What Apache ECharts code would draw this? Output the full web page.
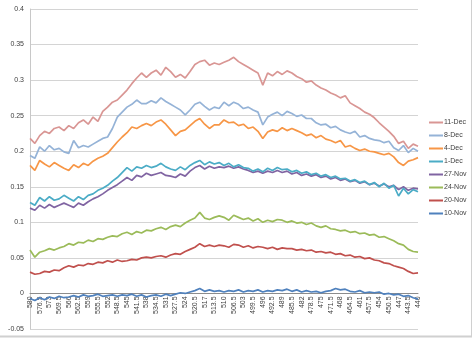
<!DOCTYPE html>
<html>
<head>
<meta charset="utf-8">
<script src="https://cdn.jsdelivr.net/npm/echarts@6/dist/echarts.min.js"></script>
<style>
  html, body { margin: 0; padding: 0; background: #fff; }
  #chart { width: 474px; height: 338px; }
</style>
</head>
<body>
<div id="chart"></div>
<script>
// Wavelength categories (nm), descending
const wavelengths = [580, 578.25, 576.5, 574.75, 573, 571.25, 569.5, 567.75, 566, 564.25, 562.5, 560.75, 559, 557.25, 555.5, 553.75, 552, 550.25, 548.5, 546.75, 545, 543.25, 541.5, 539.75, 538, 536.25, 534.5, 532.75, 531, 529.25, 527.5, 525.75, 524, 522.25, 520.5, 518.75, 517, 515.25, 513.5, 511.75, 510, 508.25, 506.5, 504.75, 503, 501.25, 499.5, 497.75, 496, 494.25, 492.5, 490.75, 489, 487.25, 485.5, 483.75, 482, 480.25, 478.5, 476.75, 475, 473.25, 471.5, 469.75, 468, 466.25, 464.5, 462.75, 461, 459.25, 457.5, 455.75, 454, 452.25, 450.5, 448.75, 447, 445.25, 443.5, 441.75, 440];

const nov10 = [-0.007, -0.01, -0.006, -0.009, -0.005, -0.007, -0.004, -0.006, -0.005, -0.003, -0.005, -0.002, -0.004, -0.003, -0.001, -0.004, -0.003, -0.002, -0.004, -0.002, -0.003, -0.001, -0.004, -0.002, -0.005, -0.003, -0.002, -0.004, -0.001, -0.003, -0.001, 0.001, 0, 0.002, 0.004, 0.007, 0.003, 0.005, 0.003, 0.004, 0.002, 0.004, 0.003, 0.005, 0.002, 0.004, 0.003, 0.005, 0.002, 0.004, 0.003, 0.005, 0.004, 0.006, 0.003, 0.005, 0.002, 0.004, 0.002, 0.003, 0.001, 0.003, 0.004, 0.007, 0.005, 0.006, 0.003, 0.002, 0.004, 0.001, 0.002, 0.001, 0.002, -0.001, 0, -0.002, -0.001, -0.004, -0.003, -0.006, -0.008];

const nov20 = [0.03, 0.027, 0.028, 0.031, 0.03, 0.033, 0.032, 0.036, 0.039, 0.037, 0.04, 0.039, 0.042, 0.041, 0.044, 0.043, 0.046, 0.044, 0.047, 0.045, 0.046, 0.048, 0.047, 0.05, 0.051, 0.05, 0.052, 0.053, 0.051, 0.054, 0.056, 0.055, 0.059, 0.062, 0.065, 0.07, 0.066, 0.068, 0.066, 0.068, 0.067, 0.065, 0.069, 0.068, 0.065, 0.067, 0.064, 0.066, 0.065, 0.063, 0.065, 0.062, 0.064, 0.063, 0.063, 0.061, 0.062, 0.06, 0.061, 0.058, 0.059, 0.057, 0.058, 0.055, 0.056, 0.053, 0.054, 0.051, 0.052, 0.049, 0.05, 0.047, 0.046, 0.043, 0.042, 0.039, 0.037, 0.035, 0.031, 0.028, 0.029];

const nov24 = [0.061, 0.051, 0.058, 0.06, 0.063, 0.061, 0.064, 0.066, 0.07, 0.068, 0.072, 0.071, 0.075, 0.073, 0.077, 0.076, 0.079, 0.081, 0.08, 0.084, 0.086, 0.083, 0.087, 0.085, 0.089, 0.088, 0.091, 0.093, 0.09, 0.094, 0.096, 0.094, 0.099, 0.103, 0.106, 0.114, 0.106, 0.104, 0.107, 0.109, 0.107, 0.103, 0.11, 0.107, 0.104, 0.106, 0.102, 0.105, 0.1, 0.103, 0.101, 0.104, 0.103, 0.1, 0.102, 0.099, 0.1, 0.097, 0.099, 0.095, 0.093, 0.095, 0.091, 0.09, 0.088, 0.089, 0.086, 0.087, 0.084, 0.085, 0.082, 0.083, 0.079, 0.08, 0.077, 0.074, 0.07, 0.068, 0.062, 0.059, 0.058];

const nov27 = [0.12, 0.117, 0.124, 0.12, 0.125, 0.121, 0.124, 0.127, 0.124, 0.121, 0.127, 0.124, 0.129, 0.133, 0.136, 0.14, 0.145, 0.149, 0.153, 0.158, 0.163, 0.159, 0.166, 0.164, 0.169, 0.166, 0.168, 0.17, 0.166, 0.165, 0.163, 0.168, 0.165, 0.172, 0.177, 0.18, 0.175, 0.179, 0.176, 0.178, 0.177, 0.179, 0.176, 0.178, 0.175, 0.173, 0.17, 0.172, 0.169, 0.172, 0.17, 0.173, 0.17, 0.172, 0.168, 0.17, 0.166, 0.168, 0.165, 0.167, 0.163, 0.165, 0.161, 0.163, 0.159, 0.161, 0.157, 0.159, 0.155, 0.157, 0.153, 0.155, 0.151, 0.154, 0.15, 0.152, 0.146, 0.15, 0.145, 0.148, 0.147];

const dec1 = [0.128, 0.124, 0.135, 0.13, 0.136, 0.131, 0.133, 0.138, 0.134, 0.13, 0.136, 0.132, 0.138, 0.14, 0.145, 0.148, 0.152, 0.158, 0.163, 0.17, 0.177, 0.172, 0.178, 0.176, 0.18, 0.177, 0.179, 0.183, 0.178, 0.175, 0.173, 0.178, 0.174, 0.18, 0.184, 0.187, 0.181, 0.185, 0.182, 0.184, 0.18, 0.183, 0.178, 0.181, 0.177, 0.176, 0.172, 0.175, 0.171, 0.176, 0.173, 0.177, 0.174, 0.175, 0.171, 0.173, 0.169, 0.171, 0.167, 0.169, 0.165, 0.167, 0.163, 0.165, 0.161, 0.162, 0.158, 0.16, 0.156, 0.158, 0.153, 0.156, 0.15, 0.155, 0.148, 0.152, 0.137, 0.148, 0.14, 0.146, 0.143];

const dec4 = [0.18, 0.173, 0.187, 0.182, 0.178, 0.184, 0.18, 0.176, 0.173, 0.181, 0.177, 0.183, 0.18, 0.186, 0.19, 0.193, 0.197, 0.205, 0.213, 0.22, 0.226, 0.234, 0.232, 0.236, 0.239, 0.236, 0.241, 0.244, 0.238, 0.23, 0.222, 0.228, 0.23, 0.236, 0.242, 0.246, 0.238, 0.232, 0.237, 0.237, 0.244, 0.24, 0.241, 0.236, 0.238, 0.232, 0.234, 0.228, 0.218, 0.227, 0.23, 0.228, 0.233, 0.229, 0.232, 0.229, 0.226, 0.222, 0.224, 0.219, 0.222, 0.217, 0.215, 0.212, 0.215, 0.206, 0.208, 0.204, 0.201, 0.203, 0.2, 0.199, 0.197, 0.195, 0.197, 0.192, 0.184, 0.18, 0.186, 0.188, 0.191];

const dec8 = [0.194, 0.19, 0.206, 0.2, 0.208, 0.202, 0.204, 0.199, 0.197, 0.215, 0.205, 0.208, 0.206, 0.21, 0.214, 0.218, 0.22, 0.232, 0.248, 0.255, 0.262, 0.266, 0.272, 0.267, 0.267, 0.271, 0.268, 0.275, 0.27, 0.266, 0.262, 0.258, 0.251, 0.258, 0.266, 0.269, 0.263, 0.258, 0.262, 0.26, 0.269, 0.264, 0.269, 0.266, 0.26, 0.262, 0.258, 0.255, 0.237, 0.248, 0.252, 0.255, 0.25, 0.256, 0.253, 0.249, 0.251, 0.246, 0.246, 0.24, 0.237, 0.238, 0.233, 0.235, 0.23, 0.227, 0.225, 0.228, 0.22, 0.222, 0.218, 0.216, 0.215, 0.212, 0.214, 0.205, 0.201, 0.208, 0.198, 0.204, 0.2];

const dec11 = [0.218, 0.211, 0.222, 0.228, 0.225, 0.232, 0.234, 0.229, 0.236, 0.232, 0.24, 0.244, 0.238, 0.248, 0.242, 0.256, 0.262, 0.269, 0.272, 0.279, 0.286, 0.295, 0.303, 0.31, 0.304, 0.31, 0.314, 0.307, 0.318, 0.312, 0.304, 0.308, 0.303, 0.312, 0.322, 0.326, 0.328, 0.321, 0.324, 0.322, 0.325, 0.328, 0.332, 0.326, 0.322, 0.318, 0.314, 0.31, 0.293, 0.31, 0.306, 0.312, 0.308, 0.313, 0.31, 0.305, 0.302, 0.297, 0.299, 0.293, 0.289, 0.286, 0.282, 0.279, 0.275, 0.278, 0.268, 0.264, 0.26, 0.255, 0.252, 0.247, 0.24, 0.234, 0.228, 0.221, 0.211, 0.214, 0.204, 0.21, 0.207];

const seriesNames = ['10-Nov', '20-Nov', '24-Nov', '27-Nov', '1-Dec', '4-Dec', '8-Dec', '11-Dec'];
const seriesData = [nov10, nov20, nov24, nov27, dec1, dec4, dec8, dec11];
const seriesColors = ['#4F81BD', '#C0504D', '#9BBB59', '#8064A2', '#4BACC6', '#F79646', '#95B3D7', '#D99694'];
const legendOrder = ['11-Dec', '8-Dec', '4-Dec', '1-Dec', '27-Nov', '24-Nov', '20-Nov', '10-Nov'];

const yMin = -0.05, yMax = 0.4, yStep = 0.05;

// Plot box, px
const gridTop = 9, gridBottom = 9, chartH = 338;
const plotH = chartH - gridTop - gridBottom;
// Horizontal axis sits on the zero line: shift it up from the bottom edge
const zeroOffset = -plotH * (0 - yMin) / (yMax - yMin);

const chart = echarts.init(document.getElementById('chart'), null, { renderer: 'canvas' });
const font = 'Liberation Sans, Arial, sans-serif';

chart.setOption({
  animation: false,
  backgroundColor: '#ffffff',
  color: seriesColors,
  grid: { left: 30, right: 56, top: gridTop, bottom: gridBottom, containLabel: false, outerBoundsMode: 'none' },
  legend: {
    data: legendOrder,
    orient: 'vertical',
    left: 429,
    top: 119,
    padding: 0,
    itemWidth: 14,
    itemHeight: 2,
    itemGap: 6,
    icon: 'rect',
    textStyle: { fontSize: 7, color: '#404040', fontFamily: font, padding: [0, 0, 0, -4] }
  },
  xAxis: {
    type: 'category',
    data: wavelengths,
    boundaryGap: false,
    offset: zeroOffset,
    axisLine: { onZero: false, lineStyle: { color: '#8c8c8c', width: 1 } },
    axisTick: { show: false },
    axisLabel: {
      interval: 1,
      rotate: 90,
      fontSize: 7,
      color: '#404040',
      fontFamily: font,
      margin: 3
    },
    splitLine: { show: false }
  },
  yAxis: {
    type: 'value',
    min: yMin,
    max: yMax,
    interval: yStep,
    axisLine: { show: true, lineStyle: { color: '#c8c8c8' } },
    axisTick: { show: false },
    axisLabel: {
      fontSize: 7,
      color: '#404040',
      fontFamily: font,
      margin: 6,
      formatter: v => String(parseFloat(v.toFixed(2)))
    },
    splitLine: { lineStyle: { color: '#d4d4d4', width: 1 } }
  },
  graphic: [
    { type: 'line', shape: { x1: 471.5, y1: 0, x2: 471.5, y2: 336 }, style: { stroke: '#d0d0d0', lineWidth: 1 } },
    { type: 'line', shape: { x1: 0, y1: 336.5, x2: 472, y2: 336.5 }, style: { stroke: '#d0d0d0', lineWidth: 2 } }
  ],
  series: seriesNames.map((name, k) => ({
    name,
    type: 'line',
    data: seriesData[k],
    symbol: 'none',
    lineStyle: { width: 1.7, color: seriesColors[k] },
    itemStyle: { color: seriesColors[k] }
  }))
});
</script>
</body>
</html>
